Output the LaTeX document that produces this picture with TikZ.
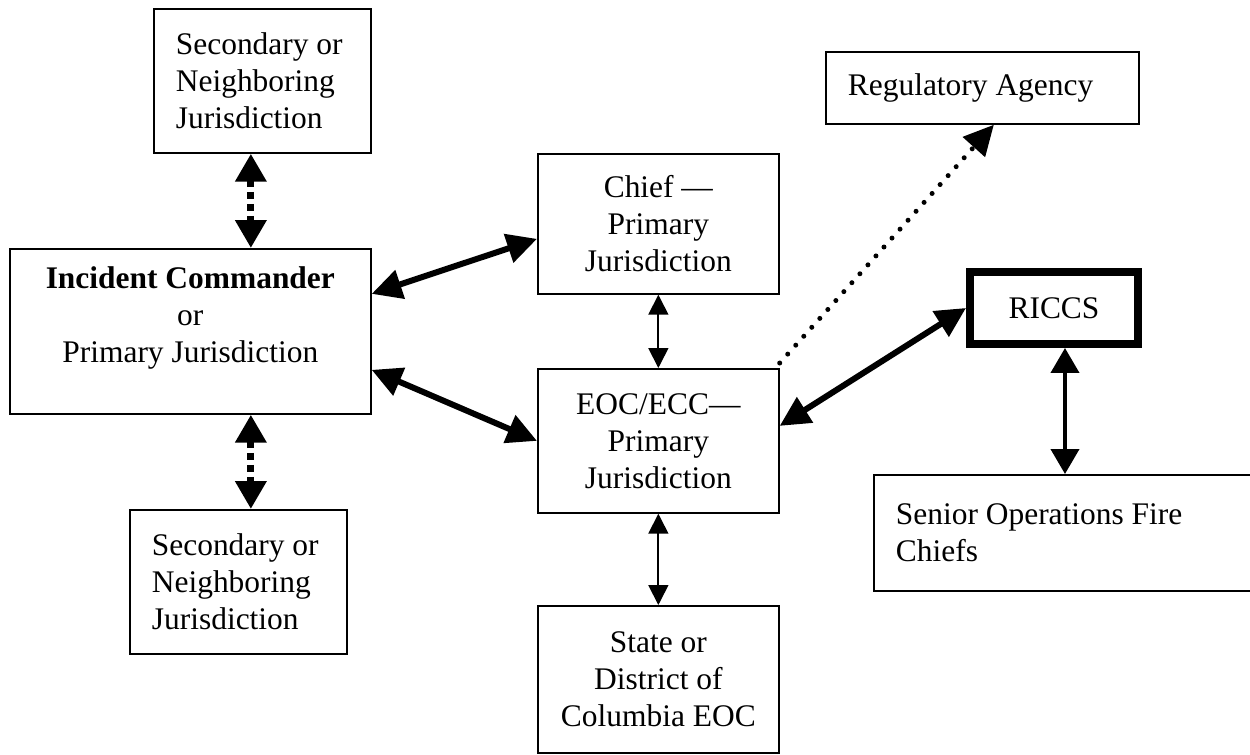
\documentclass[tikz,border=0pt]{standalone}
\usepackage{fontspec}
\setmainfont{Liberation Serif}
\usepackage{tikz}
\usetikzlibrary{arrows.meta}

\begin{document}
\begin{tikzpicture}[x=0.02cm, y=-0.02cm,
    box/.style={draw, line width=1pt, inner sep=0pt, anchor=north west, align=center,
      font=\fontsize{17.9pt}{21pt}\selectfont},
    leftbox/.style={box, align=flush left, inner xsep=0.44cm},
    bigtip/.style={Triangle[length=0.6cm, width=0.58cm]},
    smalltip/.style={Triangle[length=0.4cm, width=0.4cm]},
    bold link/.style={line width=0.12cm, {Triangle[length=0.6cm, width=0.58cm]}-{Triangle[length=0.6cm, width=0.58cm]}},
    broken link/.style={line width=0.14cm, dash pattern=on 0.14cm off 0.1cm,
      {Triangle[length=0.56cm, width=0.6cm]}-{Triangle[length=0.56cm, width=0.6cm]}},
    thin link/.style={line width=0.035cm, {Triangle[length=0.4cm, width=0.4cm]}-{Triangle[length=0.4cm, width=0.4cm]}},
    dotted link/.style={line width=0.1cm, line cap=round, dash pattern=on 0pt off 0.24cm,
      -{Triangle[length=0.6cm, width=0.58cm]}}]
  \useasboundingbox (0,0) rectangle (1250,754);
  \node[leftbox, text width=3.46cm, minimum height=2.88cm] (seca) at (153,8) {Secondary or\\Neighboring\\Jurisdiction};
  \node[box, minimum width=7.22cm, minimum height=3.3cm, text depth=0.66cm] (ic) at (9,248) {\textbf{Incident Commander}\\or\\Primary Jurisdiction};
  \node[leftbox, text width=3.46cm, minimum height=2.88cm] (secb) at (129,509) {Secondary or\\Neighboring\\Jurisdiction};
  \node[box, minimum width=4.82cm, minimum height=2.8cm] (chief) at (537,153) {Chief —\\Primary\\Jurisdiction};
  \node[box, minimum width=4.82cm, minimum height=2.88cm] (eoc) at (537,368) {EOC/ECC—\\Primary\\Jurisdiction};
  \node[box, minimum width=4.82cm, minimum height=2.94cm] (state) at (537,605) {State or\\District of\\Columbia EOC};
  \node[leftbox, text width=5.38cm, minimum height=1.44cm] (reg) at (825,51) {Regulatory Agency};
  \node[box, line width=0.16cm, minimum width=3.36cm, minimum height=1.44cm] (riccs) at (966,268) {RICCS};
  \node[leftbox, text width=6.7cm, minimum height=2.32cm] (senior) at (873,474) {Senior Operations Fire\\Chiefs};

  \draw[broken link] ([xshift=-0.23cm]seca.south) -- ([xshift=-0.23cm]seca.south |- ic.north);
  \draw[broken link] ([xshift=0.25cm]secb.north |- ic.south) -- ([xshift=0.25cm]secb.north);
  \draw[bold link] ([yshift=0.75cm]ic.east) -- ([yshift=-0.3cm]chief.west);
  \draw[bold link] ([yshift=-0.77cm]ic.east) -- (eoc.west);
  \draw[thin link] (chief.south) -- (eoc.north);
  \draw[thin link] (eoc.south) -- (state.north);
  \draw[dotted link] ([yshift=0.1cm]eoc.north east) -- ([xshift=0.23cm]reg.south);
  \draw[bold link] ([yshift=0.3cm]eoc.east) -- (riccs.west);
  \draw[line width=0.08cm, {Triangle[length=0.5cm, width=0.56cm]}-{Triangle[length=0.5cm, width=0.56cm]}] ([xshift=0.22cm]riccs.south) -- ([xshift=0.22cm]riccs.south |- senior.north);
\end{tikzpicture}
\end{document}
